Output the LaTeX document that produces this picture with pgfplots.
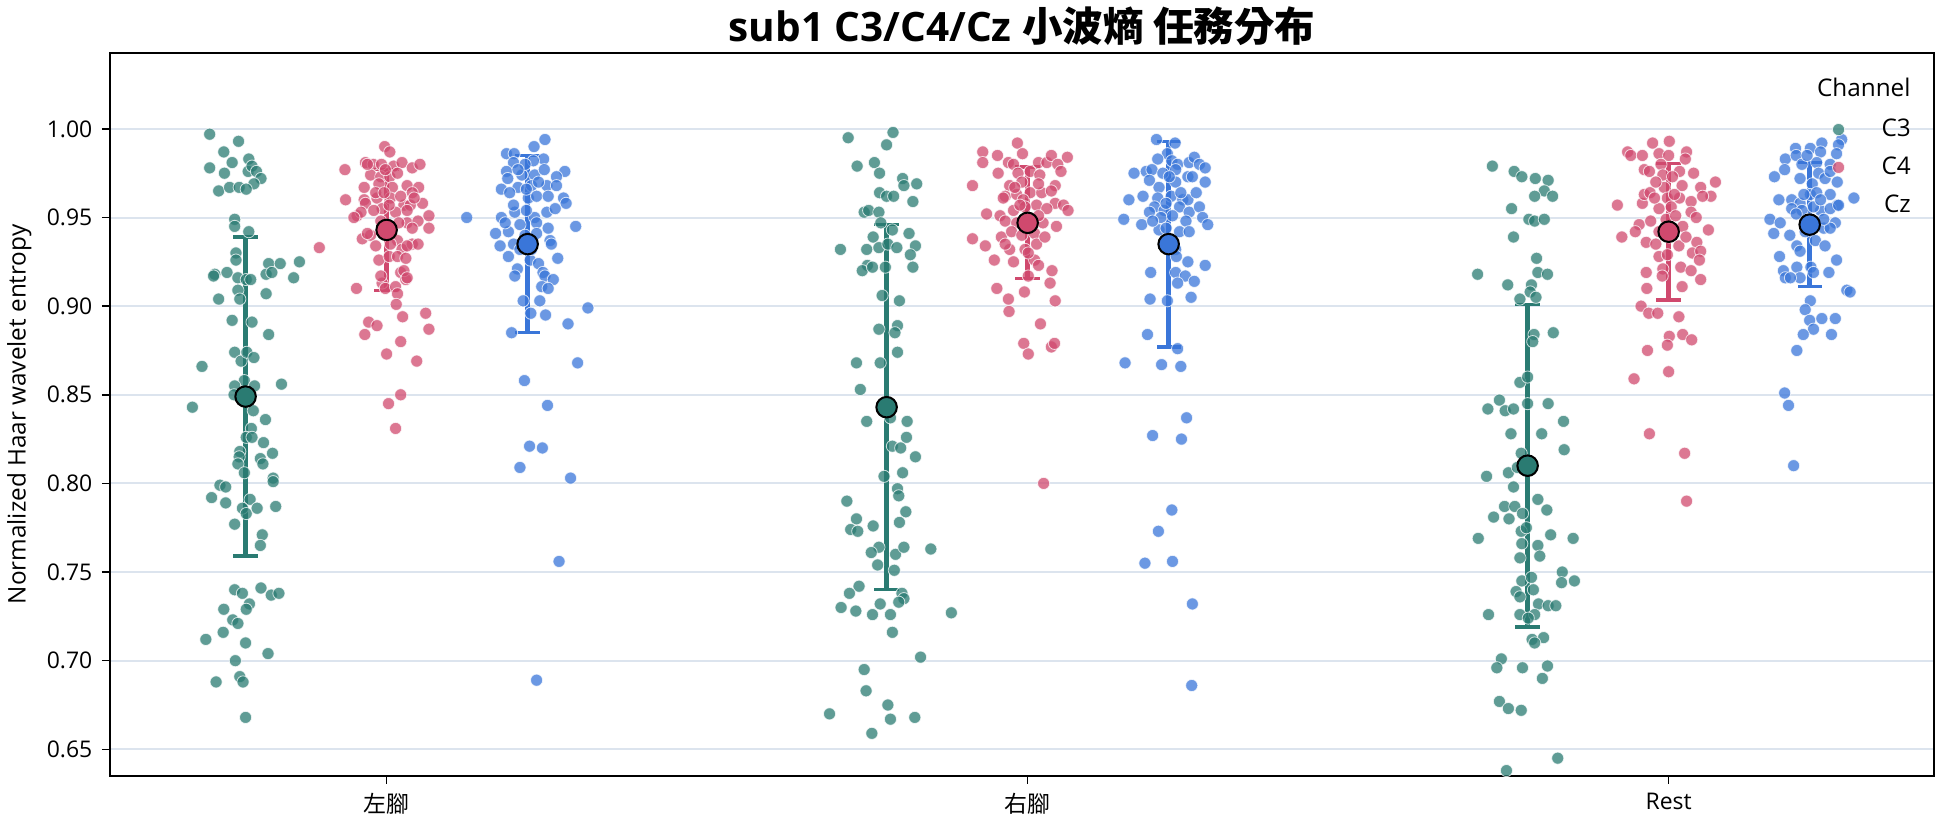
\documentclass[border=0pt]{standalone}
\usepackage{fontspec}
\setmainfont{Open Sans}
\newfontfamily\cjk{Noto Sans CJK TC}
\usepackage{pgfplots}
\pgfplotsset{compat=1.18}
\definecolor{cC3}{HTML}{2A7B72}
\definecolor{cC4}{HTML}{D0496E}
\definecolor{cCz}{HTML}{3A76D9}
\definecolor{gridc}{HTML}{DCE4EE}

\pgfplotstableread{
x y
-0.276 0.997
-0.231 0.993
-0.254 0.987
-0.276 0.978
-0.241 0.981
-0.215 0.983
-0.253 0.975
-0.216 0.976
-0.210 0.979
-0.203 0.976
-0.196 0.972
-0.207 0.969
-0.262 0.965
-0.245 0.967
-0.230 0.967
-0.219 0.966
-0.237 0.949
-0.237 0.945
-0.215 0.942
-0.235 0.930
-0.235 0.926
-0.184 0.924
-0.166 0.924
-0.136 0.925
-0.268 0.918
-0.270 0.917
-0.249 0.919
-0.232 0.916
-0.219 0.915
-0.212 0.915
-0.188 0.918
-0.179 0.919
-0.145 0.916
-0.232 0.909
-0.229 0.904
-0.262 0.904
-0.188 0.907
-0.241 0.892
-0.210 0.891
-0.184 0.884
-0.237 0.874
-0.227 0.869
-0.218 0.874
-0.207 0.871
-0.288 0.866
-0.222 0.858
-0.237 0.855
-0.238 0.850
-0.206 0.855
-0.164 0.856
-0.303 0.843
-0.208 0.841
-0.189 0.836
-0.211 0.831
-0.219 0.826
-0.210 0.826
-0.192 0.823
-0.229 0.818
-0.230 0.815
-0.232 0.811
-0.197 0.814
-0.193 0.811
-0.178 0.817
-0.222 0.806
-0.177 0.803
-0.177 0.801
-0.260 0.799
-0.251 0.798
-0.273 0.792
-0.251 0.789
-0.213 0.791
-0.225 0.786
-0.219 0.783
-0.202 0.786
-0.173 0.787
-0.237 0.777
-0.194 0.771
-0.197 0.765
-0.237 0.740
-0.225 0.738
-0.196 0.741
-0.180 0.737
-0.168 0.738
-0.214 0.732
-0.219 0.729
-0.254 0.729
-0.240 0.723
-0.232 0.721
-0.255 0.716
-0.282 0.712
-0.220 0.710
-0.185 0.704
-0.236 0.700
-0.229 0.691
-0.224 0.688
-0.266 0.688
-0.220 0.668
0.720 0.995
0.790 0.998
0.780 0.991
0.734 0.979
0.761 0.981
0.769 0.975
0.805 0.972
0.807 0.968
0.827 0.969
0.769 0.964
0.780 0.962
0.791 0.962
0.821 0.959
0.745 0.953
0.752 0.954
0.768 0.953
0.771 0.947
0.789 0.943
0.815 0.941
0.759 0.939
0.708 0.932
0.749 0.932
0.768 0.933
0.782 0.935
0.796 0.933
0.825 0.934
0.817 0.929
0.750 0.923
0.742 0.920
0.758 0.922
0.778 0.922
0.821 0.922
0.773 0.906
0.800 0.903
0.768 0.887
0.797 0.889
0.793 0.885
0.797 0.874
0.733 0.868
0.770 0.868
0.739 0.853
0.749 0.835
0.786 0.837
0.812 0.835
0.811 0.826
0.789 0.821
0.802 0.820
0.825 0.815
0.776 0.804
0.805 0.806
0.797 0.797
0.799 0.793
0.718 0.790
0.810 0.784
0.733 0.780
0.724 0.774
0.735 0.773
0.759 0.776
0.800 0.778
0.768 0.764
0.756 0.761
0.766 0.754
0.794 0.760
0.807 0.764
0.849 0.763
0.792 0.751
0.737 0.742
0.722 0.738
0.804 0.738
0.807 0.735
0.799 0.733
0.709 0.730
0.732 0.728
0.758 0.726
0.770 0.732
0.786 0.726
0.881 0.727
0.789 0.716
0.833 0.702
0.745 0.695
0.748 0.683
0.782 0.675
0.691 0.670
0.786 0.667
0.824 0.668
0.757 0.659
1.725 0.979
1.759 0.976
1.771 0.973
1.792 0.972
1.812 0.971
1.806 0.965
1.791 0.962
1.819 0.962
1.755 0.955
1.782 0.949
1.791 0.948
1.806 0.949
1.758 0.939
1.794 0.927
1.796 0.919
1.811 0.918
1.702 0.918
1.749 0.912
1.786 0.912
1.784 0.908
1.768 0.904
1.793 0.905
1.790 0.884
1.820 0.885
1.788 0.880
1.768 0.857
1.780 0.860
1.736 0.847
1.718 0.842
1.745 0.841
1.758 0.842
1.780 0.845
1.812 0.845
1.836 0.835
1.754 0.828
1.802 0.828
1.837 0.819
1.770 0.817
1.750 0.806
1.716 0.804
1.764 0.809
1.758 0.798
1.796 0.791
1.744 0.787
1.760 0.787
1.810 0.785
1.727 0.781
1.751 0.780
1.772 0.783
1.770 0.773
1.778 0.775
1.703 0.769
1.816 0.771
1.851 0.769
1.771 0.766
1.796 0.765
1.799 0.759
1.768 0.758
1.834 0.750
1.833 0.744
1.853 0.745
1.771 0.745
1.762 0.739
1.768 0.736
1.789 0.740
1.786 0.747
1.797 0.732
1.812 0.731
1.824 0.731
1.719 0.726
1.768 0.726
1.791 0.726
1.781 0.724
1.787 0.712
1.805 0.713
1.791 0.710
1.739 0.701
1.732 0.696
1.772 0.696
1.811 0.697
1.803 0.690
1.736 0.677
1.750 0.673
1.770 0.672
1.827 0.645
1.747 0.638
}\dataCthree

\pgfplotstableread{
x y
-0.003 0.990
0.005 0.987
-0.065 0.977
-0.033 0.981
-0.021 0.980
-0.008 0.980
0.011 0.979
0.024 0.981
0.040 0.978
0.052 0.980
-0.025 0.974
-0.009 0.973
0.005 0.973
-0.035 0.967
-0.012 0.969
0.009 0.967
0.032 0.968
0.050 0.967
0.040 0.964
-0.064 0.960
-0.035 0.960
-0.033 0.958
-0.015 0.961
0.006 0.961
0.027 0.957
0.037 0.957
0.056 0.958
-0.046 0.951
-0.007 0.955
0.014 0.953
0.032 0.954
0.066 0.951
-0.009 0.948
0.032 0.947
0.049 0.948
0.066 0.944
-0.038 0.938
-0.025 0.940
-0.017 0.934
0.017 0.937
0.024 0.932
0.040 0.935
0.049 0.935
-0.012 0.926
0.004 0.928
0.017 0.928
0.030 0.927
0.022 0.919
0.030 0.915
-0.047 0.910
-0.007 0.913
-0.002 0.910
0.014 0.911
0.017 0.907
0.015 0.901
0.025 0.894
0.061 0.896
-0.028 0.891
-0.015 0.889
-0.034 0.884
0.066 0.887
0.022 0.880
0.000 0.873
0.047 0.869
0.022 0.850
0.003 0.845
0.014 0.831
-0.105 0.933
-0.030 0.980
-0.002 0.977
0.017 0.975
-0.017 0.964
0.022 0.962
-0.004 0.964
0.043 0.961
0.004 0.957
-0.020 0.954
-0.040 0.953
-0.051 0.950
0.019 0.947
0.040 0.944
0.001 0.942
-0.030 0.941
0.006 0.935
0.032 0.934
-0.009 0.917
0.027 0.920
0.032 0.916
0.984 0.992
0.930 0.987
0.953 0.985
0.992 0.986
0.930 0.981
0.970 0.981
0.978 0.980
1.017 0.981
1.030 0.981
1.037 0.985
1.062 0.984
1.047 0.980
0.954 0.975
0.985 0.975
1.004 0.976
1.019 0.974
1.052 0.976
0.914 0.968
0.972 0.968
0.991 0.970
1.043 0.968
0.965 0.962
0.983 0.963
1.004 0.964
1.022 0.964
1.037 0.965
0.962 0.961
0.993 0.960
1.014 0.957
1.043 0.958
1.056 0.957
0.936 0.952
0.957 0.951
0.978 0.954
1.030 0.955
1.063 0.954
0.965 0.948
0.983 0.947
1.024 0.947
1.045 0.945
0.914 0.938
0.959 0.939
0.975 0.942
0.991 0.940
1.011 0.941
0.934 0.934
0.972 0.932
1.014 0.935
0.948 0.926
0.978 0.925
1.011 0.926
1.017 0.923
1.001 0.917
1.038 0.920
1.035 0.913
0.952 0.910
0.970 0.904
0.995 0.908
1.043 0.903
0.971 0.897
1.020 0.890
0.994 0.879
1.001 0.873
1.037 0.877
1.042 0.879
1.025 0.800
0.996 0.956
1.006 0.949
0.988 0.957
1.017 0.951
1.027 0.939
0.965 0.935
0.996 0.932
0.980 0.967
1.017 0.969
1.001 0.930
1.975 0.992
2.001 0.993
1.936 0.987
1.941 0.985
1.959 0.985
1.985 0.986
2.000 0.985
2.028 0.987
2.026 0.983
1.962 0.977
1.970 0.976
1.988 0.980
1.991 0.974
2.017 0.976
2.039 0.975
1.920 0.957
1.959 0.958
1.962 0.963
1.971 0.964
1.993 0.967
2.021 0.968
2.050 0.967
2.073 0.970
2.066 0.962
2.053 0.962
1.998 0.961
2.017 0.961
2.035 0.959
1.985 0.955
2.004 0.956
2.035 0.953
2.043 0.950
1.954 0.946
1.948 0.942
1.972 0.948
2.022 0.945
2.062 0.943
1.927 0.939
1.965 0.936
2.016 0.934
2.044 0.936
2.037 0.930
2.050 0.931
1.985 0.928
1.998 0.929
2.048 0.926
2.019 0.922
2.035 0.920
1.991 0.921
1.965 0.919
1.990 0.917
2.050 0.915
1.966 0.910
2.021 0.911
1.957 0.900
1.969 0.896
1.983 0.896
2.016 0.894
2.001 0.883
2.022 0.884
2.036 0.881
1.998 0.878
1.967 0.875
1.946 0.859
2.000 0.863
1.970 0.828
2.025 0.817
2.028 0.790
1.980 0.970
2.006 0.973
2.009 0.963
1.978 0.961
1.996 0.949
2.011 0.951
1.985 0.942
2.001 0.939
1.980 0.935
2.027 0.939
}\dataCfour

\pgfplotstableread{
x y
0.247 0.994
0.230 0.990
0.187 0.986
0.199 0.986
0.245 0.983
0.229 0.982
0.198 0.981
0.187 0.976
0.211 0.974
0.231 0.974
0.246 0.977
0.278 0.976
0.265 0.973
0.189 0.972
0.205 0.967
0.179 0.966
0.192 0.964
0.226 0.968
0.250 0.968
0.265 0.968
0.221 0.961
0.234 0.962
0.252 0.962
0.276 0.961
0.280 0.958
0.200 0.953
0.179 0.950
0.231 0.950
0.250 0.953
0.125 0.950
0.208 0.946
0.234 0.947
0.295 0.945
0.170 0.941
0.190 0.942
0.234 0.941
0.177 0.934
0.198 0.935
0.255 0.937
0.257 0.935
0.208 0.932
0.267 0.927
0.224 0.926
0.237 0.924
0.204 0.921
0.200 0.917
0.244 0.919
0.247 0.917
0.260 0.915
0.242 0.911
0.252 0.910
0.213 0.903
0.239 0.903
0.314 0.899
0.225 0.896
0.248 0.895
0.283 0.890
0.195 0.885
0.298 0.868
0.215 0.858
0.251 0.844
0.223 0.821
0.243 0.820
0.208 0.809
0.287 0.803
0.269 0.756
0.234 0.689
0.216 0.980
0.205 0.977
0.237 0.970
0.218 0.966
0.198 0.957
0.263 0.955
0.218 0.954
0.185 0.947
0.252 0.944
0.216 0.940
0.226 0.932
0.190 0.928
1.201 0.994
1.230 0.992
1.218 0.986
1.203 0.983
1.225 0.982
1.234 0.980
1.252 0.981
1.260 0.984
1.268 0.980
1.277 0.978
1.166 0.975
1.185 0.976
1.194 0.977
1.190 0.971
1.231 0.977
1.250 0.973
1.257 0.973
1.277 0.970
1.205 0.967
1.231 0.970
1.158 0.960
1.180 0.962
1.203 0.961
1.224 0.962
1.242 0.960
1.250 0.960
1.198 0.956
1.213 0.954
1.237 0.956
1.252 0.953
1.268 0.956
1.273 0.950
1.150 0.949
1.178 0.946
1.190 0.953
1.208 0.950
1.247 0.948
1.205 0.943
1.237 0.942
1.252 0.942
1.281 0.946
1.216 0.944
1.231 0.932
1.232 0.928
1.250 0.925
1.192 0.919
1.231 0.919
1.246 0.917
1.260 0.914
1.277 0.923
1.234 0.913
1.191 0.904
1.218 0.903
1.255 0.905
1.187 0.884
1.234 0.876
1.152 0.868
1.209 0.867
1.239 0.866
1.248 0.837
1.195 0.827
1.240 0.825
1.225 0.785
1.204 0.773
1.183 0.755
1.226 0.756
1.257 0.732
1.256 0.686
1.211 0.975
1.221 0.973
1.239 0.964
1.216 0.958
1.226 0.951
1.195 0.948
1.263 0.964
2.198 0.989
2.221 0.989
2.239 0.992
2.270 0.994
2.265 0.991
2.262 0.986
2.182 0.983
2.199 0.985
2.237 0.987
2.208 0.980
2.231 0.981
2.252 0.980
2.165 0.973
2.181 0.977
2.205 0.972
2.224 0.969
2.234 0.975
2.244 0.972
2.263 0.970
2.252 0.976
2.172 0.960
2.192 0.960
2.205 0.958
2.221 0.963
2.231 0.964
2.252 0.963
2.263 0.957
2.289 0.961
2.192 0.955
2.208 0.954
2.237 0.954
2.252 0.955
2.158 0.949
2.174 0.947
2.199 0.952
2.260 0.947
2.164 0.941
2.189 0.940
2.213 0.942
2.242 0.944
2.252 0.944
2.200 0.934
2.205 0.931
2.229 0.937
2.244 0.934
2.173 0.928
2.262 0.926
2.179 0.920
2.182 0.916
2.200 0.922
2.205 0.916
2.222 0.922
2.226 0.919
2.250 0.919
2.190 0.916
2.278 0.909
2.283 0.908
2.221 0.903
2.213 0.898
2.239 0.893
2.260 0.893
2.220 0.892
2.226 0.887
2.210 0.884
2.254 0.884
2.200 0.875
2.181 0.851
2.187 0.844
2.195 0.810
2.216 0.985
2.226 0.956
2.218 0.949
2.237 0.960
2.211 0.963
2.242 0.949
}\dataCz

\begin{document}
\begin{tikzpicture}
\begin{axis}[
  scale only axis,
  width=675.6pt, height=267.6pt,
  xmin=-0.4317, xmax=2.414,
  ymin=0.6351, ymax=1.0427,
  axis line style={line width=0.6pt, black},
  xtick={0,1,2},
  xticklabels={{\cjk 左腳},{\cjk 右腳},Rest},
  ytick={0.65,0.70,0.75,0.80,0.85,0.90,0.95,1.00},
  yticklabel style={/pgf/number format/.cd, fixed, fixed zerofill, precision=2, assume math mode=true},
  ticklabel style={font=\fontsize{8.5}{10}\selectfont},
  tick align=outside,
  xtick pos=bottom, ytick pos=left,
  major tick length=3pt,
  tick style={line width=0.6pt, black},
  ymajorgrids,
  grid style={gridc, line width=0.75pt},
  ylabel={Normalized Haar wavelet entropy},
  ylabel style={at={(axis description cs:-0.0496,0.5)}, anchor=center, rotate=0, font=\fontsize{9}{10}\selectfont},
  title={sub1 C3/C4/Cz {\cjk\bfseries 小波熵 任務分布}},
  title style={at={(0.5,1)}, anchor=base, yshift=-1.5pt, font=\fontsize{15}{18}\selectfont\bfseries},
  legend style={draw=none, fill=none, at={(0.995,0.925)}, anchor=north east,
    font=\fontsize{9}{10}\selectfont, row sep=2pt,
    /tikz/every odd column/.append style={column sep=11.7pt}},
  legend cell align=right,
]
\addplot[only marks, mark=*, mark size=2.25pt, mark options={fill=cC3, draw=white, line width=0.3pt, opacity=0.75}] table[x=x,y=y]{\dataCthree};
\addlegendentry{C3}
\addplot[only marks, mark=*, mark size=2.25pt, mark options={fill=cC4, draw=white, line width=0.3pt, opacity=0.75}] table[x=x,y=y]{\dataCfour};
\addlegendentry{C4}
\addplot[only marks, mark=*, mark size=2.25pt, mark options={fill=cCz, draw=white, line width=0.3pt, opacity=0.75}] table[x=x,y=y]{\dataCz};
\addlegendentry{Cz}

\addplot[draw=none, mark=none, forget plot,
  error bars/.cd, y dir=both, y explicit,
  error bar style={draw=cC3, line width=1.7pt},
  error mark options={rotate=90, draw=cC3, mark size=4.5pt, line width=1.2pt}]
  coordinates {(-0.22,0.849) +- (0,0.090) (0.78,0.843) +- (0,0.103) (1.78,0.810) +- (0,0.091)};
\addplot[draw=none, mark=none, forget plot,
  error bars/.cd, y dir=both, y explicit,
  error bar style={draw=cC4, line width=1.7pt},
  error mark options={rotate=90, draw=cC4, mark size=4.5pt, line width=1.2pt}]
  coordinates {(0,0.943) +- (0,0.034) (1,0.947) +- (0,0.0315) (2,0.942) +- (0,0.0385)};
\addplot[draw=none, mark=none, forget plot,
  error bars/.cd, y dir=both, y explicit,
  error bar style={draw=cCz, line width=1.7pt},
  error mark options={rotate=90, draw=cCz, mark size=4.5pt, line width=1.2pt}]
  coordinates {(0.22,0.935) +- (0,0.050) (1.22,0.935) +- (0,0.058) (2.22,0.946) +- (0,0.035)};

\addplot[only marks, forget plot, mark=*, mark size=3.8pt, mark options={fill=cC3, draw=black, line width=0.75pt}]
  coordinates {(-0.22,0.849) (0.78,0.843) (1.78,0.810)};
\addplot[only marks, forget plot, mark=*, mark size=3.8pt, mark options={fill=cC4, draw=black, line width=0.75pt}]
  coordinates {(0,0.943) (1,0.947) (2,0.942)};
\addplot[only marks, forget plot, mark=*, mark size=3.8pt, mark options={fill=cCz, draw=black, line width=0.75pt}]
  coordinates {(0.22,0.935) (1.22,0.935) (2.22,0.946)};

\node[anchor=east, inner sep=0pt, font=\fontsize{9}{10}\selectfont] at (rel axis cs:0.9874,0.9533) {Channel};
\end{axis}
\pgfresetboundingbox
\path[use as bounding box] ([shift={(-40.7pt,-19pt)}]current axis.south west) rectangle ([shift={(3.7pt,19.7pt)}]current axis.north east);
\end{tikzpicture}
\end{document}
